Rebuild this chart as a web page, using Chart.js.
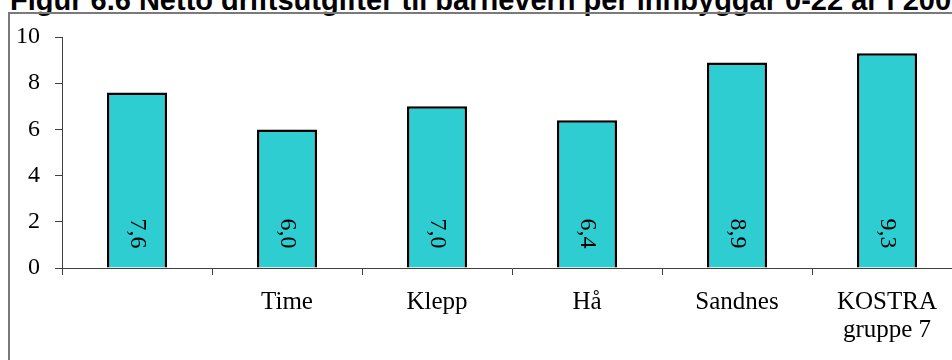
<!DOCTYPE html>
<html>
<head>
<meta charset="utf-8">
<script src="https://cdn.jsdelivr.net/npm/chart.js@4"></script>
<style>
  body { margin: 0; overflow: hidden; background: #fff; }
  .title {
    position: absolute; left: 10px; top: -16px; white-space: nowrap; line-height: 29px;
    font: bold 29px "Liberation Sans", Arial, sans-serif; color: #000;
  }
  .frame {
    position: absolute; left: 8px; top: 12px; width: 1100px; height: 400px;
    border-left: 2px solid #7a7a7a; border-top: 2px solid #7a7a7a;
  }
  .wrap { position: absolute; left: 0; top: 0; width: 1000px; height: 360px; }
</style>
</head>
<body>
<div class="title">Figur 6.6 Netto driftsutgifter til barnevern per innbyggar 0-22 år i 2007</div>
<div class="frame"></div>
<div class="wrap"><canvas id="chart" width="1000" height="360"></canvas></div>
<script>
const categories = ["", "Time", "Klepp", "Hå", "Sandnes", ["KOSTRA", "gruppe 7"]];
const values = [7.6, 6.0, 7.0, 6.4, 8.9, 9.3];
const yTicks = [0, 2, 4, 6, 8, 10];

const serif = "'Liberation Serif', 'Times New Roman', serif";
const axisColor = "#404040";

// tall verdiene loddrett inne i søylene, nederst
const barLabels = {
  id: "barLabels",
  afterDatasetsDraw(chart) {
    const ctx = chart.ctx;
    const meta = chart.getDatasetMeta(0);
    ctx.save();
    ctx.font = "24px " + serif;
    ctx.fillStyle = "#000";
    ctx.textAlign = "center";
    ctx.textBaseline = "middle";
    meta.data.forEach(function (bar, i) {
      const txt = values[i].toFixed(1).replace(".", ",");
      ctx.save();
      ctx.translate(bar.x, bar.base - 34);
      ctx.rotate(Math.PI / 2);
      ctx.fillText(txt, 0, 0);
      ctx.restore();
    });
    ctx.restore();
  }
};

new Chart("chart", {
  type: "bar",
  data: {
    labels: categories,
    datasets: [
      {
        data: values,
        backgroundColor: "#2ECDD2",
        borderColor: "#000",
        borderWidth: 2.5,
        barPercentage: 0.4,
        categoryPercentage: 1,
      },
    ],
  },
  options: {
    responsive: false,
    animation: false,
    layout: { padding: { left: 0, top: 37, right: 38, bottom: 0 } },
    plugins: { legend: { display: false }, tooltip: { enabled: false } },
    scales: {
      x: {
        grid: { drawOnChartArea: false, drawTicks: true, tickLength: 7, color: axisColor, offset: true },
        border: { color: axisColor, width: 1 },
        ticks: { font: { family: serif, size: 25, lineHeight: 1.14 }, color: "#000", padding: 13, maxRotation: 0, autoSkip: false },
        afterFit: function (scale) { scale.height = 92; },
      },
      y: {
        min: 0,
        max: 10,
        afterBuildTicks: function (scale) { scale.ticks = yTicks.map(v => ({ value: v })); },
        grid: { drawOnChartArea: false, drawTicks: true, tickLength: 7, color: axisColor },
        border: { color: axisColor, width: 1 },
        ticks: { font: { family: serif, size: 24 }, color: "#000", padding: 15 },
        afterFit: function (scale) { scale.width = 62; },
      },
    },
  },
  plugins: [barLabels],
});
</script>
</body>
</html>
